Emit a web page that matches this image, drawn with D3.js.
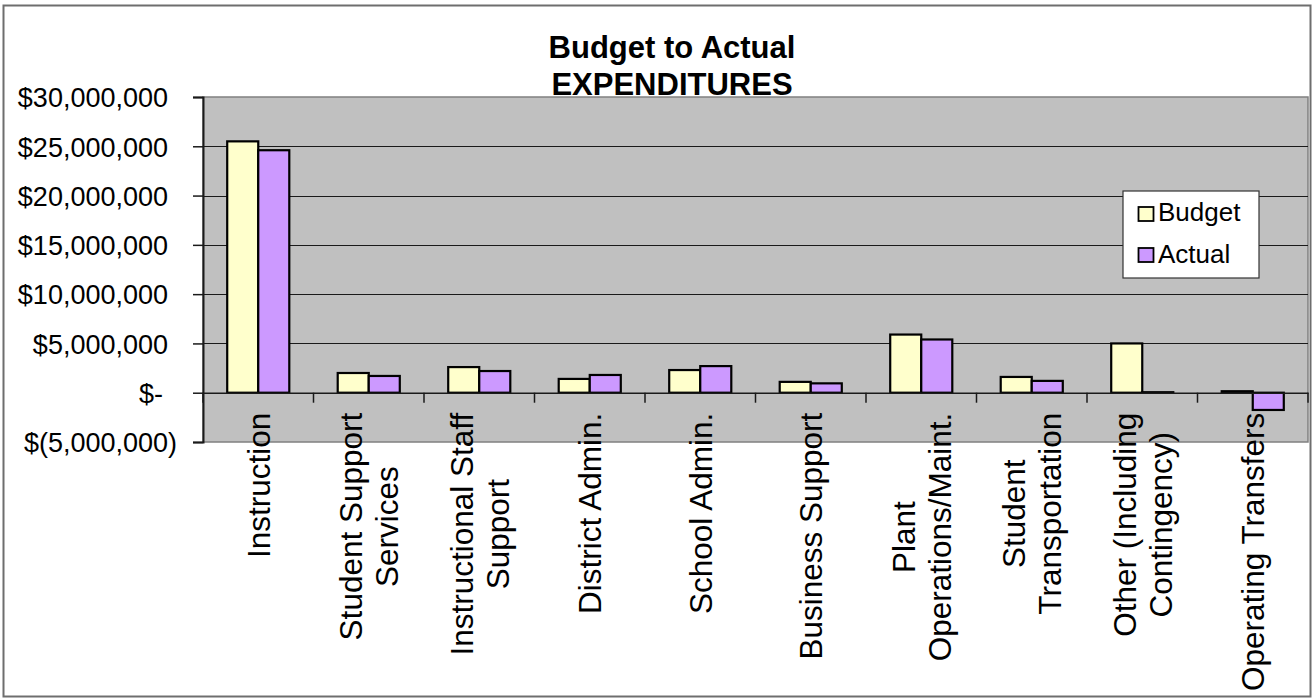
<!DOCTYPE html>
<html>
<head>
<meta charset="utf-8">
<script src="https://cdn.jsdelivr.net/npm/d3@7"></script>
<style>
  html, body { margin: 0; padding: 0; background: #fff; }
  svg { display: block; }
  text { font-family: "Liberation Sans", Arial, sans-serif; fill: #000; }
</style>
</head>
<body>
<svg id="chart" width="1312" height="698"></svg>
<script>
// ---- data ----
const categories = [
  "Instruction",
  "Student Support\nServices",
  "Instructional Staff\nSupport",
  "District Admin.",
  "School Admin.",
  "Business Support",
  "Plant\nOperations/Maint.",
  "Student\nTransportation",
  "Other (Including\nContingency)",
  "Operating Transfers"
];
const seriesNames = ["Budget", "Actual"];
const budget = [25500000, 2000000, 2600000, 1400000, 2300000, 1100000, 5900000, 1600000, 5000000, 150000];
const actual = [24600000, 1700000, 2200000, 1800000, 2700000, 950000, 5400000, 1200000, 50000, -1750000];
const yTicks = [-5000000, 0, 5000000, 10000000, 15000000, 20000000, 25000000, 30000000];
const titleLines = ["Budget to Actual", "EXPENDITURES"];

// ---- layout ----
const W = 1312, H = 698;
const plot = { left: 203, right: 1308, top: 97, bottom: 442 };
const colors = { Budget: "#FFFFCC", Actual: "#CC99FF" };

const svg = d3.select("#chart");

// outer frame
svg.append("rect")
  .attr("x", 3.5).attr("y", 5.5).attr("width", W - 5).attr("height", H - 7)
  .attr("fill", "#fff").attr("stroke", "#6e6e6e").attr("stroke-width", 2);

const y = d3.scaleLinear().domain([-5000000, 30000000]).range([plot.bottom, plot.top]);
const x0 = d3.scaleBand().domain(categories).range([plot.left, plot.right]).padding(0);
const x1 = d3.scaleBand().domain(seriesNames).range([0, x0.bandwidth()])
  .paddingInner(0).paddingOuter(0.78);

// plot area
svg.append("rect")
  .attr("x", plot.left).attr("y", plot.top)
  .attr("width", plot.right - plot.left).attr("height", plot.bottom - plot.top)
  .attr("fill", "#C0C0C0").attr("stroke", "#808080").attr("stroke-width", 1.5);

// gridlines
svg.append("g").selectAll("line")
  .data(yTicks.filter(d => d > -5000000 && d < 30000000))
  .join("line")
  .attr("x1", plot.left).attr("x2", plot.right)
  .attr("y1", d => Math.round(y(d)) + 0.5).attr("y2", d => Math.round(y(d)) + 0.5)
  .attr("stroke", "#1a1a1a").attr("stroke-width", 1.2);

// y axis
function fmt(v) {
  if (v === 0) return "$-";
  const s = d3.format(",")(Math.abs(v));
  return v < 0 ? "$(" + s + ")" : "$" + s;
}
const yAxis = d3.axisLeft(y).tickValues(yTicks).tickSize(10).tickPadding(25).tickFormat(fmt);
const gy = svg.append("g").attr("transform", `translate(${plot.left},0)`).call(yAxis);
gy.select(".domain").attr("stroke", "#1a1a1a").attr("stroke-width", 2);
gy.selectAll(".tick line").attr("stroke", "#1a1a1a").attr("stroke-width", 1.5);
gy.selectAll(".tick text")
  .attr("font-size", 27)
  .attr("font-family", "Liberation Sans, Arial, sans-serif")
  .attr("dx", d => d < 0 ? 9 : (d === 0 ? -5 : 0))
  .attr("dy", "0.36em");

// bars
const rows = categories.map((c, i) => ({ c, vals: [
  { s: "Budget", v: budget[i] }, { s: "Actual", v: actual[i] }] }));
const groups = svg.append("g").selectAll("g").data(rows).join("g")
  .attr("transform", d => `translate(${x0(d.c)},0)`);
groups.selectAll("rect").data(d => d.vals).join("rect")
  .attr("x", d => x1(d.s))
  .attr("width", x1.bandwidth())
  .attr("y", d => y(Math.max(0, d.v)))
  .attr("height", d => Math.abs(y(d.v) - y(0)))
  .attr("fill", d => colors[d.s])
  .attr("stroke", "#000").attr("stroke-width", 2.2);

// category axis at zero
const xAxis = d3.axisBottom(x0).tickSize(0).tickFormat("");
const gx = svg.append("g").attr("transform", `translate(0,${y(0)})`).call(xAxis);
gx.select(".domain").attr("stroke", "#1a1a1a").attr("stroke-width", 1.5);
const bounds = categories.map(c => x0(c)).concat([plot.right]);
svg.append("g").selectAll("line").data(bounds).join("line")
  .attr("x1", d => d).attr("x2", d => d)
  .attr("y1", y(0)).attr("y2", y(0) + 10)
  .attr("stroke", "#1a1a1a").attr("stroke-width", 1.5);

// category labels (rotated, multi-line, centred lines)
const labelTop = y(0) + 20;
const lineGap = 36;
categories.forEach(c => {
  const lines = c.split("\n");
  const cx = x0(c) + x0.bandwidth() / 2;
  const g = svg.append("g").attr("transform", `translate(${cx},${labelTop}) rotate(-90)`);
  const texts = lines.map((ln, i) => g.append("text")
    .attr("font-size", 31.5)
    .attr("text-anchor", "middle")
    .attr("y", (i - (lines.length - 1) / 2) * lineGap)
    .attr("dy", "0.36em")
    .text(ln));
  const maxLen = d3.max(texts, t => t.node().getComputedTextLength());
  texts.forEach(t => t.attr("x", -maxLen / 2));
});

// title
svg.append("g").selectAll("text").data(titleLines).join("text")
  .attr("x", 672).attr("y", (d, i) => 58 + i * 37)
  .attr("text-anchor", "middle")
  .attr("font-size", 31).attr("font-weight", "bold")
  .text(d => d);

// legend
const lg = svg.append("g");
lg.append("rect").attr("x", 1123).attr("y", 191).attr("width", 136).attr("height", 87)
  .attr("fill", "#fff").attr("stroke", "#333").attr("stroke-width", 1.2);
seriesNames.forEach((s, i) => {
  lg.append("rect").attr("x", 1138.5).attr("y", 207 + i * 41).attr("width", 15).attr("height", 14)
    .attr("fill", colors[s]).attr("stroke", "#000").attr("stroke-width", 1.8);
  lg.append("text").attr("x", 1158).attr("y", 221 + i * 42)
    .attr("font-size", 26).text(s);
});
</script>
</body>
</html>
